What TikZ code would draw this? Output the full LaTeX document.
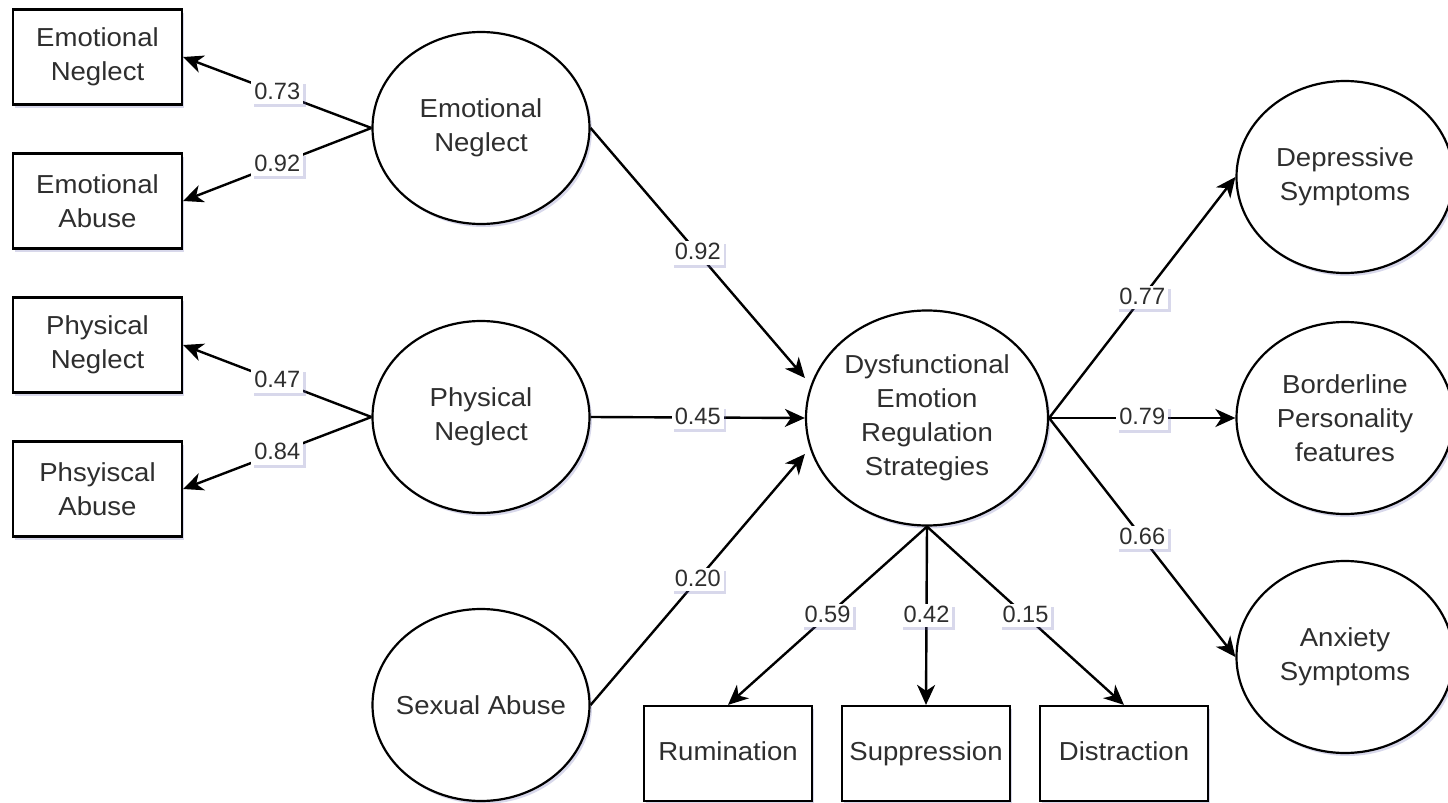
\documentclass[tikz,border=0pt]{standalone}
\usepackage{fontspec}
\setmainfont{Liberation Sans}[FakeStretch=1.06]
\newfontfamily\lblfont{Liberation Sans}
\usetikzlibrary{shapes.geometric,arrows.meta,shadows,calc}
\begin{document}
\begin{tikzpicture}[x=0.5pt,y=-0.5pt,
  shd/.style={drop shadow={shadow xshift=1.2pt,shadow yshift=-1.5pt,opacity=0.25,fill=black!50!blue!60}},
  txt/.style={align=center,font=\fontsize{13}{17}\selectfont,text=black!82},
  lat/.style={ellipse,draw,line width=1.1pt,fill=white,inner sep=0pt,minimum width=108.5pt,minimum height=96pt,txt,shd},
  obs/.style={rectangle,draw,line width=1.1pt,fill=white,inner sep=0pt,minimum width=84.5pt,minimum height=47.5pt,txt,shd},
  arr/.style={line width=1.2pt,-{Stealth[length=10pt,width=9pt,inset=3pt]}},
  lbl/.style={fill=white,inner xsep=1.5pt,inner ysep=0.5pt,text height=8.7pt,text depth=2pt,font=\lblfont\fontsize{11.8}{13}\selectfont,text=black!82,pos=0.5,shd}]
\useasboundingbox (0,0) rectangle (1448,803);
\fill[white] (0,0) rectangle (1448,803);
% observed indicators (left)
\node[obs] (ben) at (97.5,57) {Emotional\\Neglect};
\node[obs] (bea) at (97.5,201) {Emotional\\Abuse};
\node[obs] (bpn) at (97.5,345) {Physical\\Neglect};
\node[obs] (bpa) at (97.5,489) {Phsyiscal\\Abuse};
% latent predictors
\node[lat] (len) at (481,128) {Emotional\\Neglect};
\node[lat] (lpn) at (481,417) {Physical\\Neglect};
\node[lat,inner xsep=-5pt] (lsa) at (481,705) {Sexual Abuse};
% mediator
\node[lat,minimum width=121pt,minimum height=107.5pt] (ders) at (927,418) {Dysfunctional\\Emotion\\Regulation\\Strategies};
% outcomes
\node[lat] (dep) at (1345,177) {Depressive\\Symptoms};
\node[lat] (bpf) at (1345,418) {Borderline\\Personality\\features};
\node[lat] (anx) at (1345,657) {Anxiety\\Symptoms};
% strategy indicators
\node[obs,minimum width=84pt,text height=9.5pt,text depth=2.7pt] (rum) at (728,753.5) {Rumination};
\node[obs,minimum width=84pt,text height=9.5pt,text depth=2.7pt] (sup) at (926,753.5) {Suppression};
\node[obs,minimum width=84pt,text height=9.5pt,text depth=2.7pt] (dis) at (1124,753.5) {Distraction};
% entry points on the mediator
\coordinate (in1) at ($(ders.west)+(0,-40)$);
\coordinate (in3) at ($(ders.west)+(0,36)$);
% connectors
\draw[arr] (len.west) -- (ben.east) node[lbl]{0.73};
\draw[arr] (len.west) -- (bea.east) node[lbl]{0.92};
\draw[arr] (lpn.west) -- (bpn.east) node[lbl]{0.47};
\draw[arr] (lpn.west) -- (bpa.east) node[lbl]{0.84};
\draw[arr] (len.east) -- (in1) node[lbl]{0.92};
\draw[arr] (lpn.east) -- (ders.west) node[lbl]{0.45};
\draw[arr] (lsa.east) -- (in3) node[lbl]{0.20};
\draw[arr] (ders.east) -- (dep.west) node[lbl]{0.77};
\draw[arr] (ders.east) -- (bpf.west) node[lbl]{0.79};
\draw[arr] (ders.east) -- (anx.west) node[lbl]{0.66};
\draw[arr] (ders.south) -- (rum.north) node[lbl]{0.59};
\draw[arr] (ders.south) -- (sup.north) node[lbl]{0.42};
\draw[arr] (ders.south) -- (dis.north) node[lbl]{0.15};
\end{tikzpicture}
\end{document}
